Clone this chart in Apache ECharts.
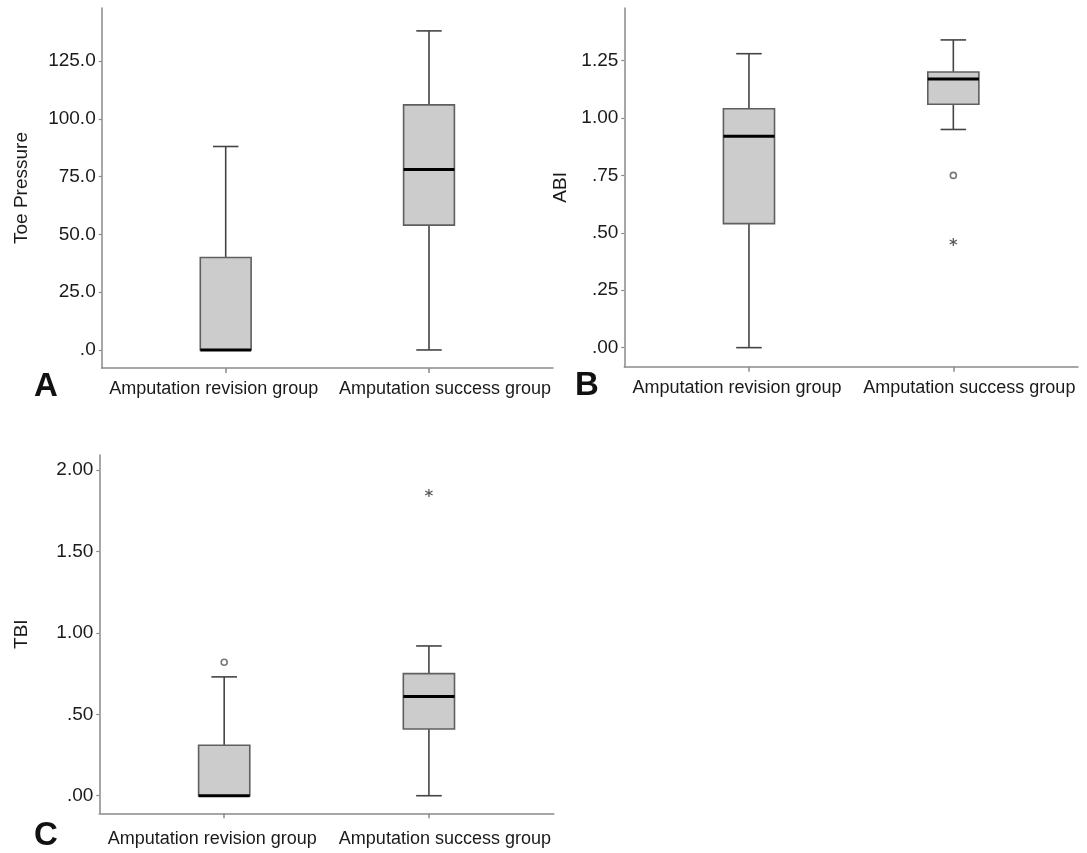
<!DOCTYPE html>
<html>
<head>
<meta charset="utf-8">
<script src="https://cdn.jsdelivr.net/npm/echarts@6/dist/echarts.min.js"></script>
<style>
  html, body { margin: 0; padding: 0; background: #ffffff; }
  #chart { width: 1087px; height: 853px; }
</style>
</head>
<body>
<div id="chart"></div>
<script>
// ---------- data ----------
const categories = ['Amputation revision group', 'Amputation success group'];

// [min, Q1, median, Q3, max]
const toeRevision = [0, 0, 0, 40, 88];
const toeSuccess  = [0, 54, 78, 106, 138];
const abiRevision = [0, 0.54, 0.92, 1.04, 1.28];
const abiSuccess  = [0.95, 1.06, 1.17, 1.20, 1.34];
const tbiRevision = [0, 0, 0, 0.31, 0.73];
const tbiSuccess  = [0, 0.41, 0.61, 0.75, 0.92];

// outliers: [category index, value]
const abiCircleOutliers = [[1, 0.75]];
const abiStarOutliers   = [[1, 0.46]];
const tbiCircleOutliers = [[0, 0.82]];
const tbiStarOutliers   = [[1, 1.86]];

// tick values
const toeTicks = [0, 25, 50, 75, 100, 125];
const abiTicks = [0, 0.25, 0.5, 0.75, 1.0, 1.25];
const tbiTicks = [0, 0.5, 1.0, 1.5, 2.0];

const axisNames = ['Toe Pressure', 'ABI', 'TBI'];
const panelLetters = ['A', 'B', 'C'];

// ---------- styles ----------
const FONT = "'Liberation Sans', Arial, sans-serif";
const TEXT = '#1a1a1a';
const AXIS = '#8a8a8a';
const BOX_W = 0.25;
const STAR = 'path://M-0.15,-1L0.15,-1L0.15,1L-0.15,1Z M0.791,-0.63L0.941,-0.37L-0.791,0.63L-0.941,0.37Z M0.941,0.37L0.791,0.63L-0.941,-0.37L-0.791,-0.63Z';

function fmtTick(decimals) {
  return function (v) {
    let s = Number(v).toFixed(decimals);
    if (s.indexOf('0.') === 0) s = s.slice(1);
    return s;
  };
}

function renderBox(params, api) {
  const x = api.value(0);
  const v = [1, 2, 3, 4, 5].map(i => api.value(i));
  const p = v.map(val => api.coord([x, val]));
  const cx = p[0][0];
  const bw = api.size([BOX_W, 0])[0];
  const hw = bw / 2, cw = bw / 4;
  const wStyle = { stroke: '#444444', lineWidth: 1.6 };
  const children = [];
  if (v[4] > v[3]) {
    children.push({ type: 'line', shape: { x1: cx, y1: p[3][1], x2: cx, y2: p[4][1] }, style: wStyle });
    children.push({ type: 'line', shape: { x1: cx - cw, y1: p[4][1], x2: cx + cw, y2: p[4][1] }, style: wStyle });
  }
  if (v[0] < v[1]) {
    children.push({ type: 'line', shape: { x1: cx, y1: p[1][1], x2: cx, y2: p[0][1] }, style: wStyle });
    children.push({ type: 'line', shape: { x1: cx - cw, y1: p[0][1], x2: cx + cw, y2: p[0][1] }, style: wStyle });
  }
  children.push({
    type: 'rect',
    shape: { x: cx - hw, y: p[3][1], width: bw, height: p[1][1] - p[3][1] },
    style: { fill: '#cccccc', stroke: '#5f5f5f', lineWidth: 1.6 }
  });
  children.push({ type: 'line', shape: { x1: cx - hw, y1: p[2][1], x2: cx + hw, y2: p[2][1] }, style: { stroke: '#000000', lineWidth: 3 } });
  return { type: 'group', children: children };
}

const grids = [
  { left: 101.7, top: 8, width: 451.3, height: 360 },
  { left: 624.3, top: 8, width: 453.7, height: 358.7 },
  { left: 99.3, top: 455, width: 454.5, height: 358.3 }
];

const xMargins = [12, 12, 17];

const yCfg = [
  { min: -7.8, max: 147.9, ticks: toeTicks, dec: 1, gap: 70 },
  { min: -0.083, max: 1.479, ticks: abiTicks, dec: 2, gap: 54 },
  { min: -0.108, max: 2.093, ticks: tbiTicks, dec: 2, gap: 68 }
];

const xAxes = grids.map((g, i) => ({
  type: 'value', gridIndex: i, min: -0.61, max: 1.61,
  splitLine: { show: false },
  axisLine: { show: true, onZero: false, lineStyle: { color: AXIS, width: 1.5 } },
  axisTick: { show: true, customValues: [0, 1], length: 5, lineStyle: { color: AXIS, width: 1.5 } },
  axisLabel: {
    customValues: [0, 1], margin: xMargins[i], showMinLabel: true, showMaxLabel: true,
    formatter: v => Math.round(v) === 0 ? '{l|' + categories[0] + '}' : '{r|' + categories[1] + '}',
    rich: {
      l: { fontFamily: FONT, fontSize: 18, color: TEXT, padding: [0, 24, 0, 0] },
      r: { fontFamily: FONT, fontSize: 18, color: TEXT, padding: [0, 0, 0, 32] }
    }
  }
}));

const yAxes = yCfg.map((c, i) => ({
  type: 'value', gridIndex: i, min: c.min, max: c.max,
  name: axisNames[i], nameLocation: 'middle', nameGap: c.gap,
  nameTextStyle: { fontFamily: FONT, fontSize: 19, color: TEXT },
  splitLine: { show: false },
  axisLine: { show: true, onZero: false, lineStyle: { color: AXIS, width: 1.5 } },
  axisTick: { show: true, customValues: c.ticks, length: 3, lineStyle: { color: AXIS, width: 1.2 } },
  axisLabel: { customValues: c.ticks, margin: 6, showMinLabel: true, showMaxLabel: true, formatter: fmtTick(c.dec), fontFamily: FONT, fontSize: 19, color: TEXT }
}));

const boxData = [
  [[0].concat(toeRevision), [1].concat(toeSuccess)],
  [[0].concat(abiRevision), [1].concat(abiSuccess)],
  [[0].concat(tbiRevision), [1].concat(tbiSuccess)]
];

const series = boxData.map((d, i) => ({
  type: 'custom', xAxisIndex: i, yAxisIndex: i,
  renderItem: renderBox,
  encode: { x: 0, y: [1, 2, 3, 4, 5] },
  data: d, clip: false, silent: true
}));

function circleSeries(idx, data) {
  return { type: 'scatter', xAxisIndex: idx, yAxisIndex: idx, data: data, symbol: 'circle', symbolSize: 6,
    itemStyle: { color: '#ffffff', borderColor: '#555555', borderWidth: 1.6 }, silent: true };
}
function starSeries(idx, data) {
  return { type: 'scatter', xAxisIndex: idx, yAxisIndex: idx, data: data, symbol: STAR, symbolSize: 8,
    itemStyle: { color: '#333333' }, silent: true };
}
series.push(circleSeries(1, abiCircleOutliers));
series.push(starSeries(1, abiStarOutliers));
series.push(circleSeries(2, tbiCircleOutliers));
series.push(starSeries(2, tbiStarOutliers));

const letterPos = [[34, 387], [575, 386], [34, 836]];
const graphic = panelLetters.map((t, i) => ({
  type: 'text', x: letterPos[i][0], y: letterPos[i][1],
  style: { text: t, fontFamily: "'Liberation Sans', Arial, sans-serif", fontWeight: 'bold', fontSize: 33, fill: '#111111', textAlign: 'left', textVerticalAlign: 'middle' }
}));

const chart = echarts.init(document.getElementById('chart'), null, { renderer: 'canvas' });
chart.setOption({
  backgroundColor: '#ffffff',
  animation: false,
  grid: grids,
  xAxis: xAxes,
  yAxis: yAxes,
  series: series,
  graphic: graphic
});
</script>
</body>
</html>
